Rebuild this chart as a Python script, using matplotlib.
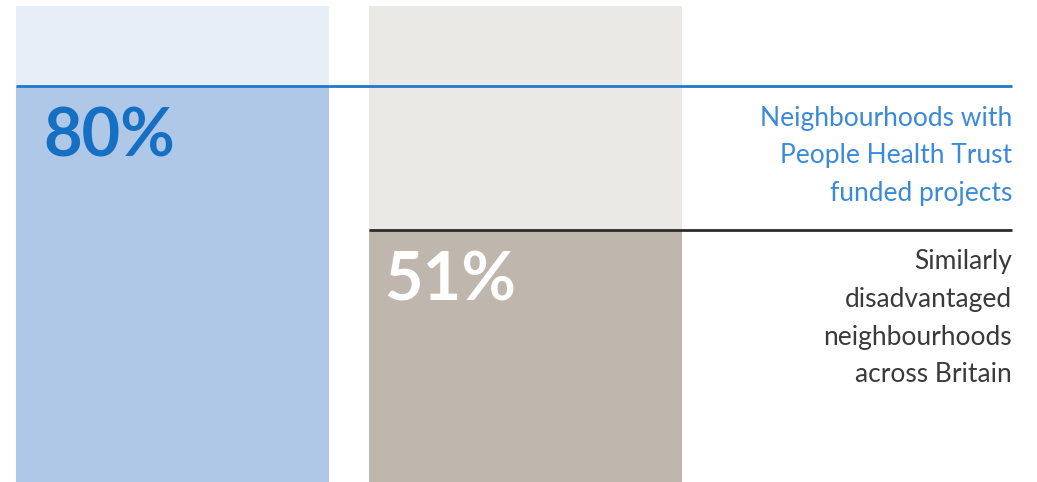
import matplotlib.pyplot as plt

categories = ["Neighbourhoods with\nPeople Health Trust\nfunded projects",
              "Similarly\ndisadvantaged\nneighbourhoods\nacross Britain"]
values = [80, 51]
labels = ["80%", "51%"]
track = 96.2

fill_colors = ["#afc8e7", "#bfb7ae"]
track_colors = ["#e8eef8", "#eae9e5"]
line_colors = ["#1f77d0", "#2b2b2b"]
label_colors = ["#1570c4", "#ffffff"]
text_colors = ["#3a8ad8", "#3a3a3a"]

plt.rcParams["font.family"] = ["Lato", "DejaVu Sans"]

fig = plt.figure(figsize=(10.37, 4.82), dpi=100)
ax = fig.add_axes([0, 0, 1, 1])

x = list(range(len(values)))
width = 0.887
line_end = 2.378

ax.bar(x, [track] * len(x), width=width, color=track_colors, zorder=1)
ax.bar(x, values, width=width, color=fill_colors, zorder=2)

for i, v in enumerate(values):
    left = x[i] - width / 2
    ax.plot([left, line_end], [v, v], color=line_colors[i], lw=2, zorder=3,
            solid_capstyle="butt")
    ax.annotate(labels[i], (left, v), xytext=(20 if i == 0 else 11, -15),
                textcoords="offset points", ha="left", va="top",
                fontsize=48, fontweight="bold", color=label_colors[i], zorder=4)
    ax.annotate(categories[i], (line_end, v), xytext=(0, -14),
                textcoords="offset points", ha="right", va="top",
                multialignment="right", fontsize=19, fontweight="normal",
                linespacing=1.64, color=text_colors[i], zorder=4)

ax.set_xlim(-0.489, 2.449)
ax.set_ylim(0, 97.4)
ax.axis("off")

fig.savefig("out.png", dpi=100)
